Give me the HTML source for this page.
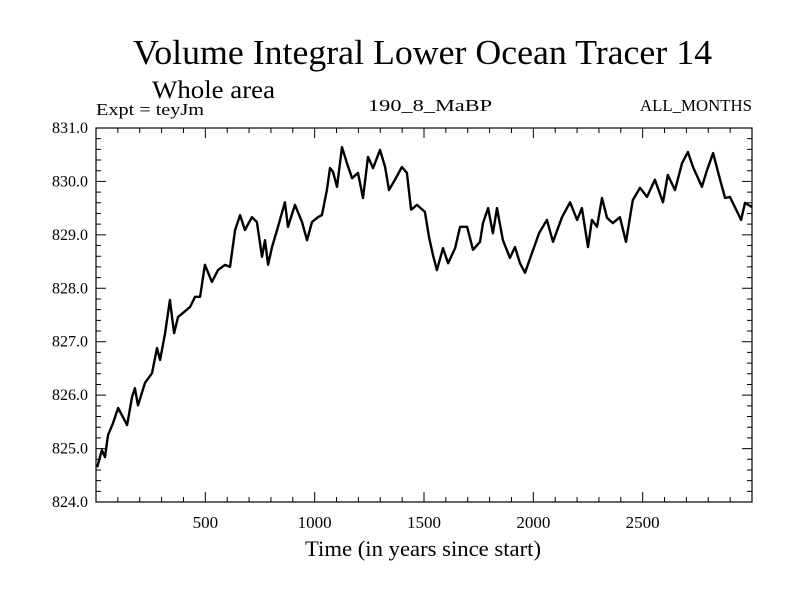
<!DOCTYPE html>
<html><head><meta charset="utf-8"><style>
body{margin:0;background:#fff;}
svg{display:block;font-family:"Liberation Serif",serif;}
</style></head><body>
<svg id="chart" width="800" height="600">
<text x="133" y="64" font-size="35" textLength="579" lengthAdjust="spacingAndGlyphs">Volume Integral Lower Ocean Tracer 14</text>
<text x="152" y="98" font-size="25" textLength="123" lengthAdjust="spacingAndGlyphs">Whole area</text>
<text x="96" y="115" font-size="17" textLength="108" lengthAdjust="spacingAndGlyphs">Expt = teyJm</text>
<text x="368" y="111" font-size="17" textLength="124" lengthAdjust="spacingAndGlyphs">190_8_MaBP</text>
<text x="640" y="111" font-size="17" textLength="112" lengthAdjust="spacingAndGlyphs">ALL_MONTHS</text>
<text x="305" y="556" font-size="22" textLength="236" lengthAdjust="spacingAndGlyphs">Time (in years since start)</text>
<g id="axes"></g>
<g id="plot"></g>
</svg>
<script>
const years=[5,27,41,55,78,101,123,142,165,178,192,224,256,279,293,316,338,357,375,398,430,453,476,498,530,558,590,613,636,659,681,713,736,759,773,787,805,828,864,878,910,942,965,988,1015,1033,1056,1070,1084,1102,1125,1148,1171,1198,1221,1244,1267,1299,1322,1340,1367,1399,1422,1441,1468,1504,1523,1541,1559,1587,1610,1642,1665,1697,1724,1756,1770,1793,1815,1834,1861,1893,1916,1939,1962,1994,2026,2062,2090,2131,2168,2200,2222,2250,2268,2291,2314,2337,2364,2396,2424,2455,2488,2520,2556,2593,2615,2648,2680,2707,2730,2771,2794,2822,2854,2877,2899,2922,2950,2968,3000];
const values=[824.65,824.97,824.84,825.25,825.48,825.76,825.59,825.44,825.97,826.13,825.81,826.23,826.41,826.88,826.66,827.16,827.78,827.16,827.46,827.54,827.65,827.84,827.84,828.44,828.12,828.34,828.44,828.40,829.09,829.37,829.09,829.33,829.24,828.59,828.90,828.44,828.77,829.09,829.61,829.15,829.56,829.24,828.90,829.24,829.33,829.37,829.84,830.25,830.18,829.90,830.64,830.34,830.06,830.16,829.69,830.46,830.25,830.59,830.27,829.84,830.03,830.27,830.16,829.47,829.56,829.43,828.96,828.62,828.34,828.75,828.47,828.75,829.15,829.15,828.72,828.87,829.22,829.50,829.03,829.50,828.90,828.57,828.77,828.47,828.29,828.66,829.03,829.28,828.87,829.33,829.61,829.28,829.50,828.77,829.28,829.15,829.69,829.32,829.22,829.33,828.87,829.65,829.88,829.71,830.03,829.61,830.12,829.84,830.34,830.55,830.27,829.90,830.21,830.53,830.03,829.69,829.71,829.52,829.28,829.60,829.52];
const xTicks=[500,1000,1500,2000,2500];
const yTicks=[824,825,826,827,828,829,830,831];
const X0=96,X1=752,Y0=502,Y1=128;
const xs=v=>X0+(v-0)/3000*(X1-X0);
const ys=v=>Y0-(v-824)/7*(Y0-Y1);
const NS="http://www.w3.org/2000/svg";
const axes=document.getElementById('axes'),plot=document.getElementById('plot');
function mk(tag,attrs,parent){const e=document.createElementNS(NS,tag);for(const k in attrs)e.setAttribute(k,attrs[k]);parent.appendChild(e);return e;}
const frame=mk('rect',{x:X0,y:Y1,width:X1-X0,height:Y0-Y1,fill:'none',stroke:'#000','stroke-width':1.2},axes);


let d='';
for(let t=100;t<3000;t+=100){const x=xs(t),L=(t%500===0)?10:5;d+=`M${x},${Y0}v${-L}M${x},${Y1}v${L}`;}
for(let v=824.2;v<830.95;v+=0.2){const y=ys(v),L=(Math.abs(v-Math.round(v))<0.01)?10:5;d+=`M${X0},${y}h${L}M${X1},${y}h${-L}`;}
const tk=mk('path',{d:d,stroke:'#000','stroke-width':1,fill:'none'},axes);


xTicks.forEach(t=>{const e=mk('text',{x:xs(t),y:528,'font-size':17,'text-anchor':'middle'},axes);e.textContent=t;

});
yTicks.forEach(v=>{const e=mk('text',{x:88,y:ys(v)+5,'font-size':16,'text-anchor':'end'},axes);e.textContent=v.toFixed(1);

});
const pts=years.map((y,i)=>xs(y).toFixed(1)+','+ys(values[i]).toFixed(1)).join(' ');
const line=mk('polyline',{points:pts,fill:'none',stroke:'#000','stroke-width':2.4,'stroke-linejoin':'round'},plot);


</script>
</body></html>
